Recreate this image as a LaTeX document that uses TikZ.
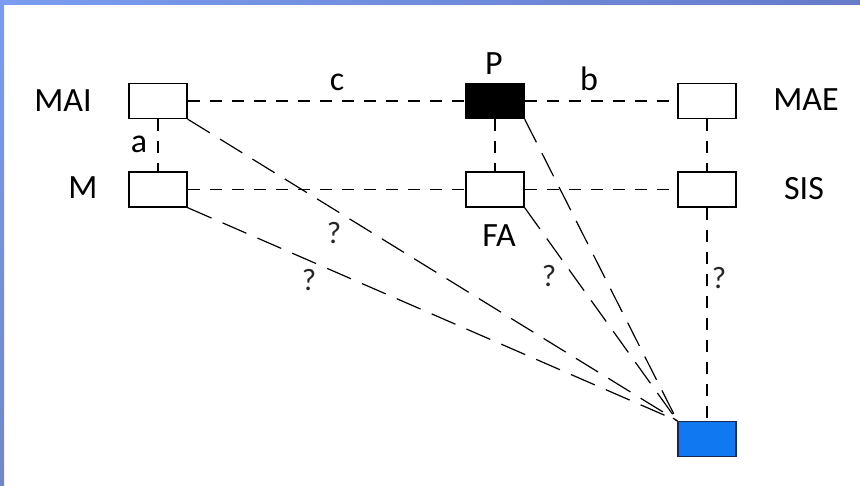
\documentclass[tikz,border=0pt]{standalone}
\usepackage{fontspec}
\setmainfont{Carlito}
\definecolor{framelight}{RGB}{122,156,240}
\definecolor{framedark}{RGB}{88,112,196}
\definecolor{goalblue}{RGB}{16,120,240}
\definecolor{goaledge}{RGB}{24,40,80}

\begin{document}
\begin{tikzpicture}[x=1pt, y=-1pt,
    stage/.style={draw, line width=1.4pt, minimum width=58pt, minimum height=35pt, inner sep=0pt},
    link/.style={line width=1.2pt, dash pattern=on 12pt off 10pt},
    farlink/.style={line width=1.2pt, dash pattern=on 26pt off 12pt},
    tag/.style={font=\fontsize{34}{40}\selectfont},
    ask/.style={font=\fontsize{31}{36}\selectfont, text=black!85}]
    \useasboundingbox (0,0) rectangle (860,486);

    % Frame (top and left bars)
    \shade[left color=framelight, middle color=framedark, right color=framedark!92!white] (0,0) rectangle (860,5);
    \shade[top color=framelight, bottom color=framedark!85!white] (0,0) rectangle (4,486);

    % Stages
    \node[stage] (mai) at (158,101) {};
    \node[stage] (m) at (158,189.5) {};
    \node[stage, fill=black] (p) at (495,101) {};
    \node[stage] (fa) at (495,189.5) {};
    \node[stage] (mae) at (707,101) {};
    \node[stage] (sis) at (707,189.5) {};
    \node[stage, fill=goalblue, draw=goaledge] (goal) at (707,439) {};

    % Stage names
    \node[tag] (tmai) at (63,101) {MAI};
    \node[tag] (tm) at (83,188) {M};
    \node[tag] (tp) at (494,64) {P};
    \node[tag] (tfa) at (499,236) {FA};
    \node[tag] (tmae) at (806,100) {MAE};
    \node[tag] (tsis) at (804,189) {SIS};

    % Known links
    \draw[link] (mai) -- (p);
    \draw[link] (p) -- (mae);
    \draw[link] (mai) -- (m);
    \draw[link] (m) -- (fa);
    \draw[link] (fa) -- (sis);
    \draw[link] (p) -- (fa);
    \draw[link] (mae) -- (sis);
    \draw[link] (sis) -- (goal);
    \node[tag] (ta) at (139,144) {a};
    \node[tag] (tb) at (589,79) {b};
    \node[tag] (tc) at (337,82) {c};

    % Open links towards the goal
    \draw[farlink] (mai.south east) -- (goal.north west);
    \draw[farlink] (m.south east) -- (goal.north west);
    \draw[farlink] (p.south east) -- (goal.north west);
    \draw[farlink] (fa.south east) -- (goal.north west);
    \node[ask] (q1) at (334,233) {?};
    \node[ask] (q2) at (309,280) {?};
    \node[ask] (q3) at (549,276) {?};
    \node[ask] (q4) at (719,278) {?};
\end{tikzpicture}
\end{document}
